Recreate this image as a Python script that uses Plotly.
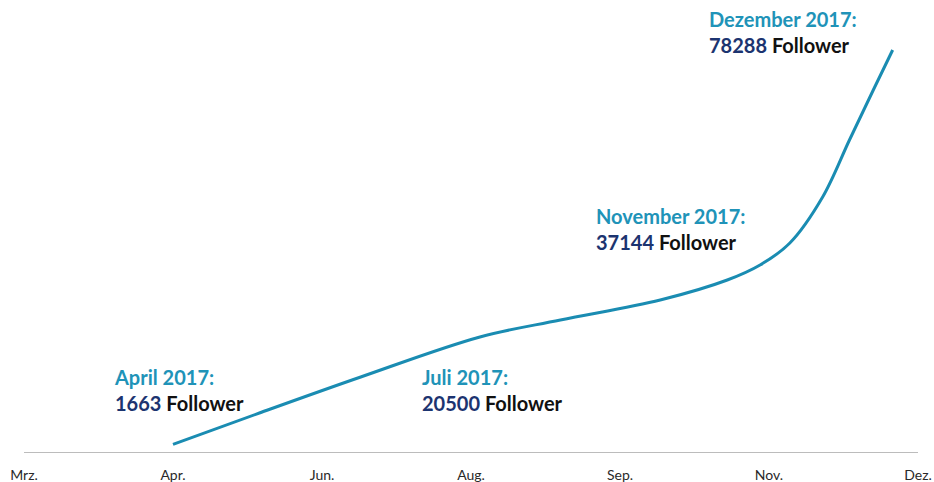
import plotly.graph_objects as go

# Axis categories (equally spaced positions)
tick_labels = ["Mrz.", "Apr.", "Jun.", "Aug.", "Sep.", "Nov.", "Dez."]
tick_pos = [0, 1, 2, 3, 4, 5, 6]

# Curve (x in category units, y in followers)
curve_x = [1.0, 1.58, 2.26, 3.06, 3.60, 4.27, 4.72, 4.94, 5.14, 5.36, 5.54, 5.70, 5.83]
curve_y = [1663, 7771, 14764, 22535, 25837, 29722, 33607, 36522, 40795, 49732, 60805, 70517, 78288]

# Annotations
ann_titles = ["April 2017:", "Juli 2017:", "November 2017:", "Dezember 2017:"]
ann_values = ["1663", "20500", "37144", "78288"]
ann_x = [0.59, 2.658, 3.826, 4.585]
ann_y = [17400, 17400, 48700, 86060]
ann_shift = [0, 0, 0, 5]

TEAL = "#2093b8"
LINE = "#1a8cb2"
NAVY = "#1c3470"

fig = go.Figure()
fig.add_trace(go.Scatter(
    x=curve_x, y=curve_y, mode="lines",
    line=dict(color=LINE, width=3, shape="spline", smoothing=1.0),
    hoverinfo="skip", showlegend=False,
))

for t, v, x, y, s in zip(ann_titles, ann_values, ann_x, ann_y, ann_shift):
    fig.add_annotation(
        x=x, y=y, xref="x", yref="y", xanchor="left", yanchor="top",
        yshift=s, showarrow=False, align="left",
        text=(f"<b><span style='color:{TEAL}'>{t}</span><br>"
              f"<span style='color:{NAVY}'>{v}</span> "
              f"<span style='color:#111111'>Follower</span></b>"),
        font=dict(family="Lato", size=20),
    )

fig.update_layout(
    width=934, height=482,
    margin=dict(l=24, r=16, t=10, b=29),
    paper_bgcolor="white", plot_bgcolor="white",
    xaxis=dict(
        range=[0, 6], tickvals=tick_pos, ticktext=tick_labels,
        showgrid=False, zeroline=False, showline=False,
        ticks="", ticklabelstandoff=12, automargin=False,
        tickfont=dict(family="Lato", size=14, color="#2a2a2a"),
        fixedrange=True,
    ),
    yaxis=dict(
        range=[0, 86060], visible=False, showgrid=False, zeroline=False,
        fixedrange=True, automargin=False,
    ),
    shapes=[dict(type="line", xref="x", yref="y", x0=0, x1=6.01, y0=0, y1=0,
                 line=dict(color="#a6a6a6", width=1.5))],
)

fig.write_html("out.html")
